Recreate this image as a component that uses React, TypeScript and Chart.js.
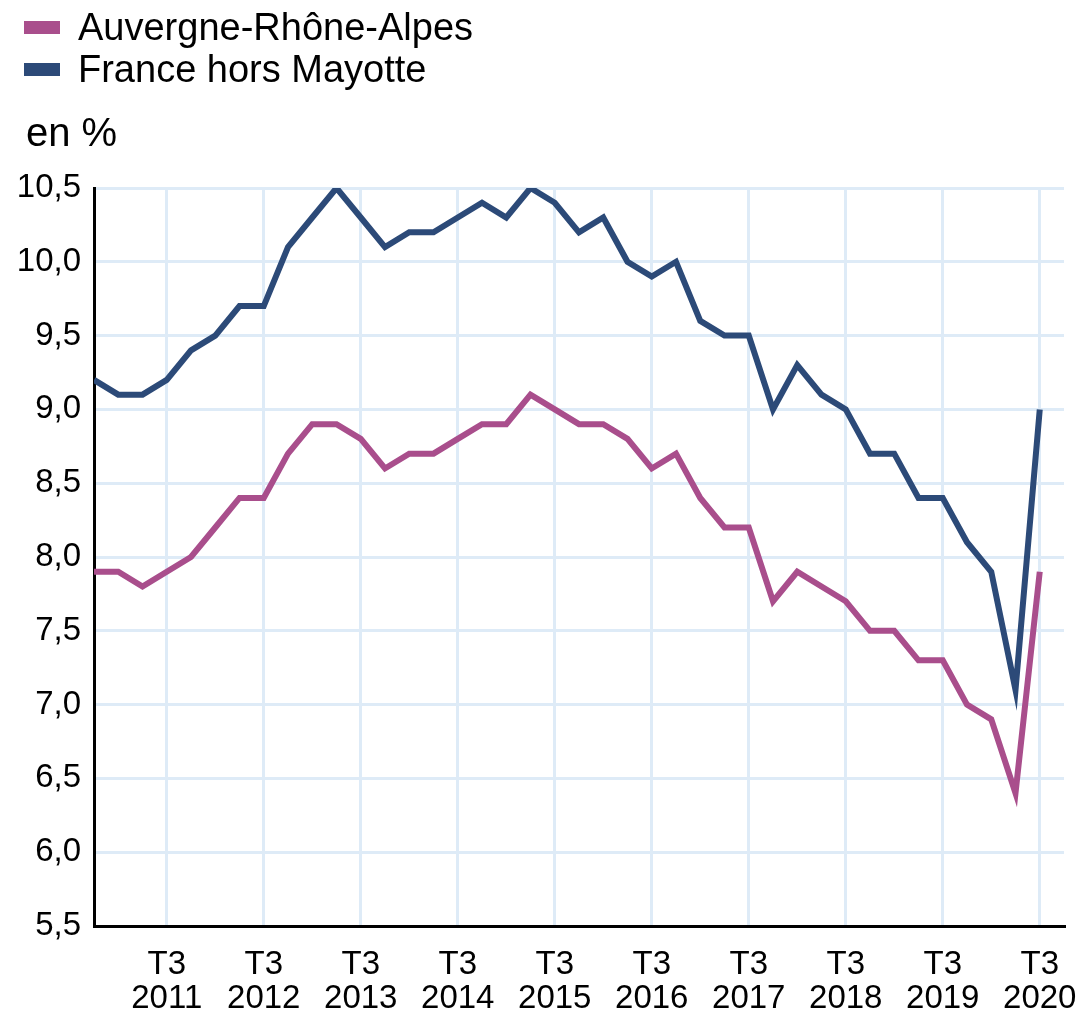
import React, { useEffect, useRef } from "react";
import { Chart, registerables } from "chart.js";

Chart.register(...registerables);

const quarters = [
  "T4 2010",
  "T1 2011", "T2 2011", "T3 2011", "T4 2011",
  "T1 2012", "T2 2012", "T3 2012", "T4 2012",
  "T1 2013", "T2 2013", "T3 2013", "T4 2013",
  "T1 2014", "T2 2014", "T3 2014", "T4 2014",
  "T1 2015", "T2 2015", "T3 2015", "T4 2015",
  "T1 2016", "T2 2016", "T3 2016", "T4 2016",
  "T1 2017", "T2 2017", "T3 2017", "T4 2017",
  "T1 2018", "T2 2018", "T3 2018", "T4 2018",
  "T1 2019", "T2 2019", "T3 2019", "T4 2019",
  "T1 2020", "T2 2020", "T3 2020",
];

const auvergne = [
  7.9, 7.9, 7.8, 7.9, 8.0, 8.2, 8.4, 8.4, 8.7, 8.9,
  8.9, 8.8, 8.6, 8.7, 8.7, 8.8, 8.9, 8.9, 9.1, 9.0,
  8.9, 8.9, 8.8, 8.6, 8.7, 8.4, 8.2, 8.2, 7.7, 7.9,
  7.8, 7.7, 7.5, 7.5, 7.3, 7.3, 7.0, 6.9, 6.4, 7.9,
];

const france = [
  9.2, 9.1, 9.1, 9.2, 9.4, 9.5, 9.7, 9.7, 10.1, 10.3,
  10.5, 10.3, 10.1, 10.2, 10.2, 10.3, 10.4, 10.3, 10.5, 10.4,
  10.2, 10.3, 10.0, 9.9, 10.0, 9.6, 9.5, 9.5, 9.0, 9.3,
  9.1, 9.0, 8.7, 8.7, 8.4, 8.4, 8.1, 7.9, 7.1, 9.0,
];

const xTickIndices = [3, 7, 11, 15, 19, 23, 27, 31, 35, 39];
const xTickLabels = [
  ["T3", "2011"], ["T3", "2012"], ["T3", "2013"], ["T3", "2014"], ["T3", "2015"],
  ["T3", "2016"], ["T3", "2017"], ["T3", "2018"], ["T3", "2019"], ["T3", "2020"],
];

const seriesNames = ["Auvergne-Rhône-Alpes", "France hors Mayotte"];
const seriesColors = ["#a94e8c", "#2c4a78"];
const unitLabel = "en %";

const FONT = "'Liberation Sans', Arial, sans-serif";

export default function App() {
  const ref = useRef<HTMLCanvasElement | null>(null);

  useEffect(() => {
    if (!ref.current) return;
    const chart = new Chart(ref.current, {
      type: "line",
      data: {
        datasets: [
          {
            label: seriesNames[0],
            data: auvergne.map((v, i) => ({ x: i, y: v })),
            borderColor: seriesColors[0],
            backgroundColor: seriesColors[0],
            borderWidth: 6,
            pointRadius: 0,
            tension: 0,
          },
          {
            label: seriesNames[1],
            data: france.map((v, i) => ({ x: i, y: v })),
            borderColor: seriesColors[1],
            backgroundColor: seriesColors[1],
            borderWidth: 6,
            pointRadius: 0,
            tension: 0,
          },
        ],
      },
      options: {
        animation: false,
        responsive: false,
        maintainAspectRatio: false,
        layout: { padding: { top: 188, right: 12, bottom: 0, left: 0 } },
        plugins: {
          legend: { display: false },
          tooltip: { enabled: false },
        },
        scales: {
          x: {
            type: "linear",
            min: 0,
            max: 40,
            afterBuildTicks: (scale: any) => {
              scale.ticks = xTickIndices.map((v) => ({ value: v }));
            },
            afterFit: (scale: any) => {
              scale.height = 87;
              scale.paddingRight = 0;
              scale.paddingLeft = 0;
            },
            ticks: {
              autoSkip: false,
              maxRotation: 0,
              padding: 22,
              color: "#000",
              font: { family: FONT, size: 33, lineHeight: 1.02 },
              callback: (value: any) => {
                const idx = xTickIndices.indexOf(Number(value));
                return idx >= 0 ? xTickLabels[idx] : "";
              },
            },
            grid: {
              color: "#deebf7",
              lineWidth: 3,
              drawTicks: false,
            },
            border: { color: "#000", width: 3 },
          },
          y: {
            min: 5.5,
            max: 10.5,
            afterFit: (scale: any) => {
              scale.width = 94;
            },
            ticks: {
              stepSize: 0.5,
              padding: 13,
              color: "#000",
              font: { family: FONT, size: 33 },
              callback: (value: any) => Number(value).toFixed(1).replace(".", ","),
            },
            grid: {
              color: "#deebf7",
              lineWidth: 3,
              drawTicks: false,
            },
            border: { color: "#000", width: 3 },
          },
        },
      },
    });
    return () => chart.destroy();
  }, []);

  return (
    <div
      style={{
        position: "absolute",
        left: 0,
        top: 0,
        width: 1076,
        height: 1013,
        background: "#fff",
        fontFamily: FONT,
        color: "#000",
      }}
    >
      <canvas
        ref={ref}
        width={1076}
        height={1013}
        style={{ position: "absolute", left: 0, top: 0, width: 1076, height: 1013 }}
      />
      {seriesNames.map((name, i) => (
        <div
          key={name}
          style={{
            position: "absolute",
            left: 24,
            top: 6 + i * 42,
            height: 42,
            display: "flex",
            alignItems: "center",
            fontSize: 38,
            lineHeight: "42px",
            whiteSpace: "nowrap",
          }}
        >
          <span
            style={{
              display: "inline-block",
              width: 36,
              height: 13,
              background: seriesColors[i],
              marginRight: 18,
            }}
          />
          <span>{name}</span>
        </div>
      ))}
      <div
        style={{
          position: "absolute",
          left: 26,
          top: 110,
          fontSize: 40,
          lineHeight: "44px",
          whiteSpace: "nowrap",
        }}
      >
        {unitLabel}
      </div>
    </div>
  );
}
